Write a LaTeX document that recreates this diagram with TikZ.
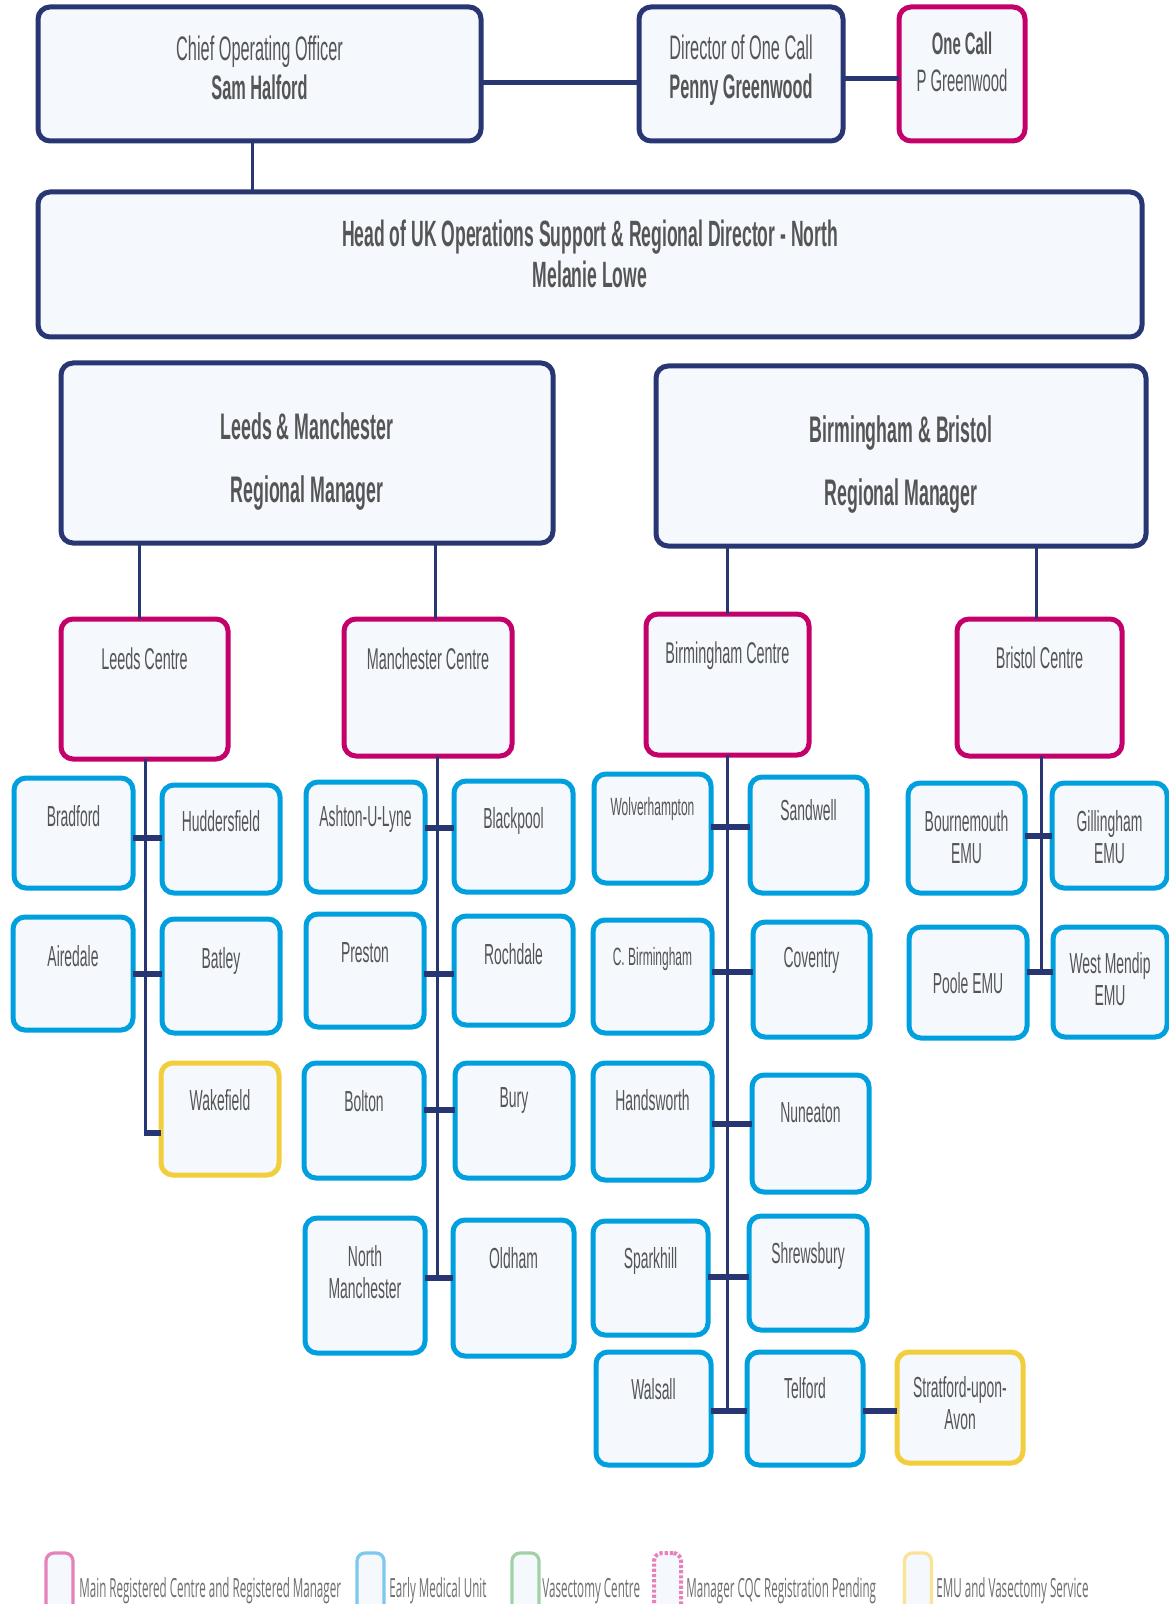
\documentclass[tikz,border=0pt]{standalone}
\usepackage{fontspec}
\setmainfont{Liberation Sans}[FakeStretch=0.48]
\newfontfamily\legendfont{Open Sans}[FakeStretch=0.44]

\definecolor{navy}{RGB}{40,55,115}
\definecolor{centrepink}{RGB}{196,0,106}
\definecolor{emublue}{RGB}{0,160,223}
\definecolor{emuyellow}{RGB}{242,205,60}
\definecolor{boxfill}{RGB}{245,248,253}
\definecolor{txtgray}{RGB}{85,85,85}
\definecolor{legpink}{RGB}{230,130,185}
\definecolor{legblue}{RGB}{125,200,238}
\definecolor{leggreen}{RGB}{160,210,165}
\definecolor{legyellow}{RGB}{250,226,150}
\definecolor{legtext}{RGB}{110,110,110}

\tikzset{
  orgbox/.style={rectangle, rounded corners=6pt, fill=boxfill, line width=2.5pt,
    inner sep=0pt, outer sep=0pt},
  navybox/.style={orgbox, draw=navy},
  pinkbox/.style={orgbox, draw=centrepink},
  bluebox/.style={orgbox, draw=emublue},
  yellowbox/.style={orgbox, draw=emuyellow},
  boxtext/.style={anchor=north, inner sep=0pt, align=center, text=txtgray},
  toptxt/.style={boxtext, font=\fontsize{17}{19.5}\selectfont},
  calltxt/.style={boxtext, font=\fontsize{15.5}{18.5}\selectfont},
  headtxt/.style={boxtext, font=\bfseries\fontsize{18.3}{20.5}\selectfont},
  rmtxt/.style={boxtext, font=\bfseries\fontsize{18.5}{31.5}\selectfont},
  ctxt/.style={boxtext, font=\fontsize{15}{17}\selectfont},
  utxt/.style={boxtext, font=\fontsize{14.5}{16}\selectfont},
  stxt/.style={boxtext, font=\fontsize{12.5}{14}\selectfont},
  trunk/.style={draw=navy, line width=1.5pt},
  bar/.style={draw=navy, line width=3pt},
  link/.style={draw=navy, line width=2.5pt},
  legbox/.style={rectangle, rounded corners=4pt, fill=boxfill, line width=1.6pt,
    minimum width=13.5pt, minimum height=30pt, inner sep=0pt, outer sep=0pt},
  legtxt/.style={anchor=base west, inner sep=0pt, text=legtext,
    font=\legendfont\fontsize{13.2}{14}\selectfont}
}

% box from (x1,y1) to (x2,y2) in pixels, text dropped from the top edge
\newcommand{\orgunit}[9]{%
  \node[#2, minimum width={(#6-#4)*0.5pt}, minimum height={(#7-#5)*0.5pt}] (#1)
    at ({(#4+#6)/2},{(#5+#7)/2}) {};
  \node[#3] (#1-t) at ([yshift={-#8*0.5pt}]#1.north) {#9};
}

\begin{document}
\begin{tikzpicture}[x=0.5pt, y=-0.5pt]
  \fill[white] (0,0) rectangle (1168,1604);
  \useasboundingbox (0,0) rectangle (1168,1604);

  % top level
  \orgunit{coo}{navybox}{toptxt}{38}{7}{481}{141}{28}{Chief Operating Officer\\\textbf{Sam Halford}}
  \orgunit{dir}{navybox}{toptxt}{639}{7}{843}{141}{27}{Director of One Call\\\textbf{Penny Greenwood}}
  \orgunit{onecall}{pinkbox}{calltxt}{899}{7}{1025}{141}{25}{\textbf{One Call}\\P Greenwood}
  \orgunit{head}{navybox}{headtxt}{38}{192}{1142}{337}{28}{Head of UK Operations Support \& Regional Director - North\\Melanie Lowe}

  \draw[link] ([yshift=-4.5pt]coo.east) -- ([yshift=-4.5pt]dir.west);
  \draw[link] ([yshift=-2.5pt]dir.east) -- ([yshift=-2.5pt]onecall.west);
  \draw[trunk] ([xshift=-3.75pt]coo.south) -- ([xshift=-3.75pt]coo.south |- head.north);

  % regional managers
  \orgunit{rmlm}{navybox}{rmtxt}{61}{363}{553}{543}{49}{Leeds \& Manchester\\Regional Manager}
  \orgunit{rmbb}{navybox}{rmtxt}{656}{366}{1146}{546}{49}{Birmingham \& Bristol\\Regional Manager}

  % centres
  \orgunit{leeds}{pinkbox}{ctxt}{61}{619}{228}{759}{28}{Leeds Centre}
  \orgunit{manc}{pinkbox}{ctxt}{344}{619}{512}{756}{28}{Manchester Centre}
  \orgunit{birm}{pinkbox}{ctxt}{646}{614}{809}{755}{27}{Birmingham Centre}
  \orgunit{bris}{pinkbox}{ctxt}{957}{619}{1122}{756}{27}{Bristol Centre}

  \draw[trunk] ([xshift=-2.75pt]leeds.north) -- ([xshift=-2.75pt]leeds.north |- rmlm.south);
  \draw[trunk] ([xshift=3.5pt]manc.north) -- ([xshift=3.5pt]manc.north |- rmlm.south);
  \draw[trunk] (birm.north) -- (birm.north |- rmbb.south);
  \draw[trunk] ([xshift=-1.75pt]bris.north) -- ([xshift=-1.75pt]bris.north |- rmbb.south);

  % Leeds units
  \orgunit{bradford}{bluebox}{utxt}{14}{778}{133}{888}{27}{Bradford}
  \orgunit{hudd}{bluebox}{utxt}{162}{785}{280}{893}{25}{Huddersfield}
  \orgunit{airedale}{bluebox}{utxt}{13}{917}{133}{1030}{28}{Airedale}
  \orgunit{batley}{bluebox}{utxt}{162}{919}{280}{1033}{28}{Batley}
  \orgunit{wake}{yellowbox}{utxt}{161}{1063}{279}{1175}{26}{Wakefield}

  \coordinate (lj1) at (145,838);
  \coordinate (lj2) at (145,974);
  \coordinate (lj3) at (145,1133);
  \draw[trunk] (leeds.south -| lj1) -- (lj3);
  \draw[bar] (bradford.east |- lj1) -- (hudd.west |- lj1);
  \draw[bar] (airedale.east |- lj2) -- (batley.west |- lj2);
  \draw[bar] ([xshift=-0.75pt]lj3) -- (wake.west |- lj3);

  % Manchester units
  \orgunit{ashton}{bluebox}{utxt}{306}{782}{425}{892}{23}{Ashton-U-Lyne}
  \orgunit{blackpool}{bluebox}{utxt}{454}{781}{573}{892}{26}{Blackpool}
  \orgunit{preston}{bluebox}{utxt}{306}{914}{424}{1027}{28}{Preston}
  \orgunit{rochdale}{bluebox}{utxt}{454}{916}{573}{1025}{27}{Rochdale}
  \orgunit{bolton}{bluebox}{utxt}{304}{1063}{424}{1178}{27}{Bolton}
  \orgunit{bury}{bluebox}{utxt}{455}{1063}{573}{1178}{24}{Bury}
  \orgunit{nmanc}{bluebox}{utxt}{305}{1218}{425}{1353}{27}{North\\Manchester}
  \orgunit{oldham}{bluebox}{utxt}{453}{1220}{574}{1356}{27}{Oldham}

  \coordinate (mj1) at (437,828);
  \coordinate (mj2) at (437,974);
  \coordinate (mj3) at (437,1110);
  \coordinate (mj4) at (437,1278);
  \draw[trunk] (manc.south -| mj1) -- (mj4);
  \draw[bar] (ashton.east |- mj1) -- (blackpool.west |- mj1);
  \draw[bar] (preston.east |- mj2) -- (rochdale.west |- mj2);
  \draw[bar] (bolton.east |- mj3) -- (bury.west |- mj3);
  \draw[bar] (nmanc.east |- mj4) -- (oldham.west |- mj4);

  % Birmingham units
  \orgunit{wolv}{bluebox}{stxt}{594}{774}{711}{883}{23}{Wolverhampton}
  \orgunit{sandwell}{bluebox}{utxt}{750}{777}{867}{893}{22}{Sandwell}
  \orgunit{cbirm}{bluebox}{stxt}{593}{920}{712}{1033}{27}{C. Birmingham}
  \orgunit{coventry}{bluebox}{utxt}{753}{922}{870}{1037}{25}{Coventry}
  \orgunit{handsworth}{bluebox}{utxt}{593}{1063}{712}{1180}{26}{Handsworth}
  \orgunit{nuneaton}{bluebox}{utxt}{752}{1075}{869}{1192}{27}{Nuneaton}
  \orgunit{sparkhill}{bluebox}{utxt}{593}{1221}{708}{1335}{26}{Sparkhill}
  \orgunit{shrews}{bluebox}{utxt}{749}{1216}{867}{1330}{26}{Shrewsbury}
  \orgunit{walsall}{bluebox}{utxt}{596}{1352}{711}{1465}{26}{Walsall}
  \orgunit{telford}{bluebox}{utxt}{747}{1352}{863}{1465}{25}{Telford}
  \orgunit{stratford}{yellowbox}{utxt}{897}{1352}{1023}{1463}{24}{Stratford-upon-\\Avon}

  \coordinate (bj1) at (727,827);
  \coordinate (bj2) at (727,972);
  \coordinate (bj3) at (727,1124);
  \coordinate (bj4) at (727,1277);
  \coordinate (bj5) at (727,1411);
  \draw[trunk] (birm.south -| bj1) -- (bj5);
  \draw[bar] (wolv.east |- bj1) -- (sandwell.west |- bj1);
  \draw[bar] (cbirm.east |- bj2) -- (coventry.west |- bj2);
  \draw[bar] (handsworth.east |- bj3) -- (nuneaton.west |- bj3);
  \draw[bar] (sparkhill.east |- bj4) -- (shrews.west |- bj4);
  \draw[bar] (walsall.east |- bj5) -- (telford.west |- bj5);
  \draw[bar] (telford.east |- bj5) -- (stratford.west |- bj5);

  % Bristol units
  \orgunit{bourne}{bluebox}{utxt}{908}{783}{1025}{893}{27}{Bournemouth\\EMU}
  \orgunit{gill}{bluebox}{utxt}{1052}{783}{1167}{888}{27}{Gillingham\\EMU}
  \orgunit{poole}{bluebox}{utxt}{909}{927}{1027}{1038}{45}{Poole EMU}
  \orgunit{wmendip}{bluebox}{utxt}{1053}{927}{1167}{1037}{25}{West Mendip\\EMU}

  \coordinate (rj1) at (1041,836);
  \coordinate (rj2) at (1041,972);
  \draw[trunk] (bris.south -| rj1) -- (rj2);
  \draw[bar] (bourne.east |- rj1) -- (gill.west |- rj1);
  \draw[bar] (poole.east |- rj2) -- (wmendip.west |- rj2);

  % legend
  \node[legbox, draw=legpink] (lg-main) at (59.5,1583) {};
  \node[legtxt] (lg-main-t) at (79,1597) {Main Registered Centre and Registered Manager};
  \node[legbox, draw=legblue] (lg-emu) at (370.5,1583) {};
  \node[legtxt] (lg-emu-t) at (389,1597) {Early Medical Unit};
  \node[legbox, draw=leggreen] (lg-vas) at (525.5,1583) {};
  \node[legtxt] (lg-vas-t) at (542,1597) {Vasectomy Centre};
  \node[legbox, draw=legpink, densely dotted, line width=2pt] (lg-pend) at (667.5,1583) {};
  \node[legtxt] (lg-pend-t) at (686,1597) {Manager CQC Registration Pending};
  \node[legbox, draw=legyellow] (lg-both) at (918,1583) {};
  \node[legtxt] (lg-both-t) at (936,1597) {EMU and Vasectomy Service};
\end{tikzpicture}
\end{document}
